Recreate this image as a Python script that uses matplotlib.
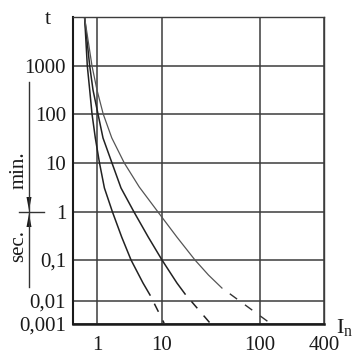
import numpy as np
import matplotlib
matplotlib.use("Agg")
import matplotlib.pyplot as plt
from matplotlib.lines import Line2D
from matplotlib.patches import Polygon

plt.rcParams['font.family'] = ['Liberation Serif', 'DejaVu Serif']
plt.rcParams['mathtext.fontset'] = 'custom'
plt.rcParams['mathtext.rm'] = 'Liberation Serif'
plt.rcParams['mathtext.it'] = 'Liberation Serif'
plt.rcParams['lines.scale_dashes'] = False

# ---------------- data ----------------
x_ticks = [1, 10, 100, 400]
x_tick_labels = ["1", "10", "100", "400"]
y_ticks = [0.001, 0.01, 0.1, 1, 10, 100, 1000]
y_tick_labels = ["0,001", "0,01", "0,1", "1", "10", "100", "1000"]

# curve 1 (left)
c1_x = [0.645, 0.709, 0.772, 0.838, 0.942, 1.093, 1.30, 1.73, 2.40, 3.34, 5.10, 6.54]
c1_t = [9550, 1000, 316, 100, 32.4, 10, 3.09, 1, 0.30, 0.1, 0.0275, 0.0140]
c1_dash_x = [6.54, 10.5]
c1_dash_t = [0.0140, 0.0011]

# curve 2 (middle)
c2_x = [0.645, 0.772, 0.868, 1.036, 1.237, 1.70, 2.34, 3.71, 6.15, 10.0, 14.2, 17.2]
c2_t = [9550, 1000, 316, 100, 32.4, 10, 3.09, 1, 0.30, 0.1, 0.0275, 0.0148]
c2_dash_x = [17.2, 30.9]
c2_dash_t = [0.0148, 0.0011]

# curve 3 (right)
c3_x = [0.645, 0.838, 1.0, 1.246, 1.69, 2.63, 4.46, 8.68, 14.2, 21.7, 29.8, 40.9]
c3_t = [9550, 1000, 316, 100, 32.4, 10, 3.25, 1, 0.30, 0.1, 0.043, 0.0207]
c3_dash_x = [40.9, 124]
c3_dash_t = [0.0207, 0.0011]

# ---------------- non-uniform (schematic) log scales ----------------
X_LOG = [-0.37, 0.0, 1.0, 2.0, np.log10(400)]
X_POS = [0.0, 24.0, 89.0, 187.0, 251.0]
Y_LOG = [-3.0, -2.0, -1.0, 0.0, 1.0, 2.0, 3.0, 4.0]
Y_POS = [0.0, 23.0, 64.0, 112.0, 161.0, 210.0, 258.0, 307.0]


def fx(v):
    v = np.clip(np.asarray(v, dtype=float), 1e-12, None)
    return np.interp(np.log10(v), X_LOG, X_POS)


def ix(p):
    return 10 ** np.interp(np.asarray(p, dtype=float), X_POS, X_LOG)


def fy(v):
    v = np.clip(np.asarray(v, dtype=float), 1e-12, None)
    return np.interp(np.log10(v), Y_LOG, Y_POS)


def iy(p):
    return 10 ** np.interp(np.asarray(p, dtype=float), Y_POS, Y_LOG)


W, H = 358, 362
fig = plt.figure(figsize=(W / 100, H / 100), dpi=100)
ax = fig.add_axes([73 / W, 1 - 324 / H, (324 - 73) / W, (324 - 17) / H])
ax.set_xscale('function', functions=(fx, ix))
ax.set_yscale('function', functions=(fy, iy))
ax.set_xlim(10 ** -0.37, 400)
ax.set_ylim(0.001, 10 ** 4)

ax.set_xticks(x_ticks)
ax.set_xticklabels(x_tick_labels)
ax.set_yticks(y_ticks)
ax.set_yticklabels(y_tick_labels)
ax.minorticks_off()
ax.tick_params(length=0, labelsize=15, colors='#1a1a1a')
ax.tick_params(axis='x', pad=9)
ax.tick_params(axis='y', pad=5)
ax.grid(True, color='#3c3c3c', linewidth=1.1)
ax.set_axisbelow(True)
for s in ['top', 'right']:
    ax.spines[s].set_linewidth(1.0)
    ax.spines[s].set_color('#3c3c3c')
ax.spines['left'].set_linewidth(1.5)
ax.spines['bottom'].set_linewidth(1.8)
ax.spines['left'].set_color('#1a1a1a')
ax.spines['bottom'].set_color('#1a1a1a')

dash = (6.5, (6.5, 7.0))
ax.plot(c1_x, c1_t, color='#222222', lw=1.1)
ax.plot(c1_dash_x, c1_dash_t, color='#222222', lw=1.1, linestyle=dash)
ax.plot(c2_x, c2_t, color='#222222', lw=1.1)
ax.plot(c2_dash_x, c2_dash_t, color='#222222', lw=1.1, linestyle=dash)
ax.plot(c3_x, c3_t, color='#555555', lw=0.9)
ax.plot(c3_dash_x, c3_dash_t, color='#333333', lw=1.0, linestyle=dash)


def F(px, py):
    return (px / W, 1 - py / H)


fig.text(*F(48, 19), "t", fontsize=16, ha='center', va='center', color='#1a1a1a')
fig.text(*F(345, 327), r"$\mathrm{I_n}$", fontsize=16, ha='center', va='center',
         color='#1a1a1a')
fig.text(*F(19, 170), "min.", fontsize=15, rotation=90, ha='center', va='center',
         color='#1a1a1a')
fig.text(*F(19, 246), "sec.", fontsize=15, rotation=90, ha='center', va='center',
         color='#1a1a1a')

tf = fig.transFigure
fig.add_artist(Line2D([29 / W, 29 / W], [1 - 82 / H, 1 - 287 / H], transform=tf,
                      color='#333333', lw=1.0))
fig.add_artist(Line2D([19 / W, 44 / W], [1 - 212 / H, 1 - 212 / H], transform=tf,
                      color='#333333', lw=1.0))
fig.add_artist(Polygon([F(26.5, 197), F(31.5, 197), F(29, 210.5)], closed=True,
                       transform=tf, color='#1a1a1a', lw=0))
fig.add_artist(Polygon([F(26.5, 227), F(31.5, 227), F(29, 213.5)], closed=True,
                       transform=tf, color='#1a1a1a', lw=0))

fig.savefig("out.png", dpi=100)
